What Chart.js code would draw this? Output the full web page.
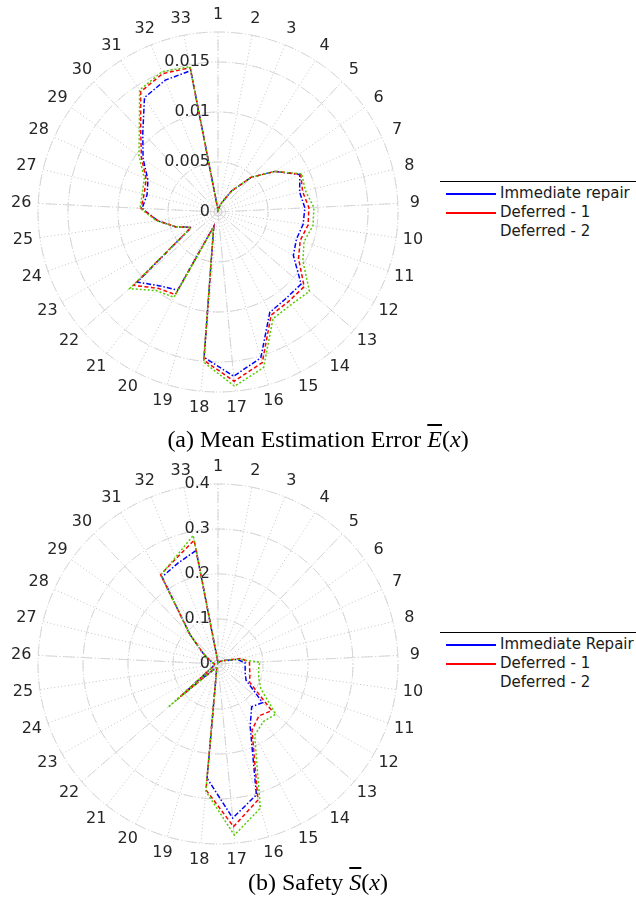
<!DOCTYPE html>
<html>
<head>
<meta charset="utf-8">
<script src="https://cdn.jsdelivr.net/npm/chart.js@4.4.1/dist/chart.umd.min.js"></script>
<style>
  body { margin: 0; background: #fff; width: 636px; height: 910px; position: relative; overflow: hidden; }
  .plot { position: absolute; left: 0; }
  .legend { position: absolute; left: 440px; width: 196px; border-top: 1px solid #000; padding-top: 2px;
            font: 15px "DejaVu Sans", sans-serif; color: #1a1a1a; }
  .legend div { position: relative; height: 19px; line-height: 19px; padding-left: 60px; white-space: nowrap; }
  .legend .sw { position: absolute; left: 6px; top: 9px; width: 50px; height: 2px; }
  .cap { position: absolute; left: 0; width: 636px; text-align: center; line-height: 28px;
         font: 24px "Liberation Serif", "Times New Roman", serif; color: #000; }
  .ov { text-decoration: overline; font-style: italic; }
</style>
</head>
<body>
<canvas id="err-chart" class="plot" width="436" height="424" style="top:0"></canvas>
<canvas id="safe-chart" class="plot" width="436" height="424" style="top:452px"></canvas>
<div id="err-legend" class="legend" style="top:181px"></div>
<div id="safe-legend" class="legend" style="top:632px"></div>
<div class="cap" style="top:426px">(a) Mean Estimation Error <span class="ov">E</span>(<i>x</i>)</div>
<div class="cap" style="top:869px">(b) Safety <span class="ov">S</span>(<i>x</i>)</div>

<script>
// спицы 1..33
const spokes = ['1','2','3','4','5','6','7','8','9','10','11','12','13','14','15','16','17',
                '18','19','20','21','22','23','24','25','26','27','28','29','30','31','32','33'];

const namesErr  = ['Immediate repair', 'Deferred - 1', 'Deferred - 2'];
const namesSafe = ['Immediate Repair', 'Deferred - 1', 'Deferred - 2'];
const colors = ['#0000ff', '#ff0000', '#55cc00'];

// (a) mean estimation error
const errImmediate = [0.0002,0.0004,0.0010,0.0025,0.0048,0.0070,0.0090,0.0084,0.0087,0.0086,0.0083,
                      0.0087,0.0110,0.0110,0.0113,0.0152,0.0165,0.0146,0.0015,0.0088,0.0094,0.0107,
                      0.0031,0.0045,0.0061,0.0076,0.0073,0.0077,0.0092,0.0109,0.0136,0.0142,0.0144];
const errDeferred1 = [0.0002,0.0004,0.0010,0.0025,0.0048,0.0070,0.0091,0.0087,0.0091,0.0091,0.0087,
                      0.0093,0.0114,0.0114,0.0116,0.0157,0.0170,0.0149,0.0015,0.0093,0.0097,0.0112,
                      0.0031,0.0045,0.0061,0.0077,0.0076,0.0079,0.0094,0.0112,0.0143,0.0149,0.0147];
const errDeferred2 = [0.0002,0.0004,0.0010,0.0025,0.0048,0.0070,0.0092,0.0090,0.0096,0.0096,0.0091,
                      0.0098,0.0121,0.0118,0.0120,0.0162,0.0175,0.0151,0.0016,0.0096,0.0100,0.0117,
                      0.0031,0.0045,0.0062,0.0078,0.0078,0.0081,0.0097,0.0114,0.0145,0.0151,0.0148];

// (b) safety
const safeImmediate = [0.003,0.005,0.005,0.006,0.008,0.012,0.020,0.044,0.060,0.061,0.064,
                       0.072,0.131,0.121,0.156,0.303,0.344,0.255,0.010,0.010,0.015,0.110,
                       0.015,0.010,0.008,0.008,0.012,0.020,0.040,0.090,0.230,0.241,0.257];
const safeDeferred1 = [0.003,0.005,0.005,0.006,0.008,0.012,0.020,0.053,0.070,0.071,0.075,
                       0.081,0.158,0.147,0.165,0.315,0.363,0.281,0.010,0.010,0.015,0.120,
                       0.015,0.010,0.008,0.008,0.012,0.020,0.040,0.090,0.236,0.252,0.280];
const safeDeferred2 = [0.003,0.005,0.005,0.006,0.008,0.012,0.020,0.045,0.093,0.091,0.096,
                       0.110,0.170,0.163,0.178,0.334,0.382,0.284,0.010,0.010,0.015,0.147,
                       0.015,0.010,0.008,0.008,0.012,0.020,0.040,0.090,0.235,0.255,0.291];

const errMax = 0.018, errStep = 0.005;
const safeMax = 0.4, safeStep = 0.1;

// длинные штрихи по спицам ~ через 45°
const guideSpokes = [0, 4, 8, 12, 16, 21, 25, 29];
const dashes = [[5, 2, 1.5, 2], [4, 2.5], [2, 2]];

const TEXT = '#262626';

function fmtTick(v) {
  return String(parseFloat(v.toFixed(6))); // 0.010 -> 0.01
}

// ---- подписи и сетка поверх библиотечной ----
const polarDecor = {
  id: 'polarDecor',
  beforeDatasetsDraw(chart, args, opts) {
    const s = chart.scales.r;
    const ctx = chart.ctx;
    ctx.save();
    ctx.strokeStyle = '#d6d6d6';
    ctx.lineWidth = 1;
    ctx.setLineDash([10, 8]);
    guideSpokes.forEach(i => {
      const p = s.getPointPosition(i, s.drawingArea);
      ctx.beginPath();
      ctx.moveTo(s.xCenter, s.yCenter);
      ctx.lineTo(p.x, p.y);
      ctx.stroke();
    });
    // штриховые окружности
    s.ticks.forEach((t, j) => {
      if (j === 0) return;
      const d = s.getDistanceFromCenterForValue(t.value);
      ctx.lineDashOffset = j * 5;
      ctx.beginPath();
      ctx.arc(s.xCenter, s.yCenter, d, 0, Math.PI * 2);
      ctx.stroke();
    });
    ctx.setLineDash([]);

    // подписи радиальной шкалы
    ctx.fillStyle = TEXT;
    ctx.font = '16px "DejaVu Sans"';
    ctx.textAlign = 'right';
    ctx.textBaseline = 'middle';
    s.ticks.forEach(t => {
      const k = t.value / opts.step;
      if (Math.abs(k - Math.round(k)) > 1e-6) return;
      const d = s.getDistanceFromCenterForValue(t.value);
      ctx.fillText(fmtTick(t.value), s.xCenter - 8, s.yCenter - d);
    });

    // номера спиц
    ctx.textAlign = 'center';
    chart.data.labels.forEach((lab, i) => {
      const p = s.getPointPosition(i, s.drawingArea + 17);
      ctx.fillText(lab, p.x, p.y);
    });
    ctx.restore();
  }
};

function makeChart(id, series, max, step) {
  const ctx = document.getElementById(id).getContext('2d');
  return new Chart(ctx, {
    type: 'radar',
    data: {
      labels: spokes,
      datasets: series.map((d, i) => ({
        data: d,
        borderColor: colors[i],
        borderWidth: 1.5,
        borderDash: dashes[i],
        pointRadius: 0,
        fill: false,
        tension: 0,
        order: 2 - i,
      })),
    },
    options: {
      responsive: false,
      animation: false,
      events: [],
      devicePixelRatio: 1,
      layout: { padding: { left: 38, right: 38, top: 32, bottom: 32 } },
      plugins: { legend: { display: false }, tooltip: { enabled: false }, polarDecor: { step } },
      scales: {
        r: {
          min: 0,
          max,
          ticks: { stepSize: step, display: false },
          grid: { circular: true, color: '#c4c4c4', lineWidth: 1 },
          border: { dash: [1, 2.5] },
          angleLines: { color: '#c4c4c4', lineWidth: 1, borderDash: [1, 2.5] },
          pointLabels: { display: false },
        },
      },
    },
    plugins: [polarDecor],
  });
}

function fillLegend(id, names) {
  const box = document.getElementById(id);
  names.forEach((n, i) => {
    const row = document.createElement('div');
    if (i < 2) {
      const sw = document.createElement('span');
      sw.className = 'sw';
      sw.style.background = colors[i];
      row.appendChild(sw);
    }
    row.appendChild(document.createTextNode(n));
    box.appendChild(row);
  });
}

function init() {
  if (typeof Chart === 'undefined') { setTimeout(init, 50); return; }
  makeChart('err-chart', [errImmediate, errDeferred1, errDeferred2], errMax, errStep);
  makeChart('safe-chart', [safeImmediate, safeDeferred1, safeDeferred2], safeMax, safeStep);
  fillLegend('err-legend', namesErr);
  fillLegend('safe-legend', namesSafe);
}
init();
</script>
</body>
</html>
